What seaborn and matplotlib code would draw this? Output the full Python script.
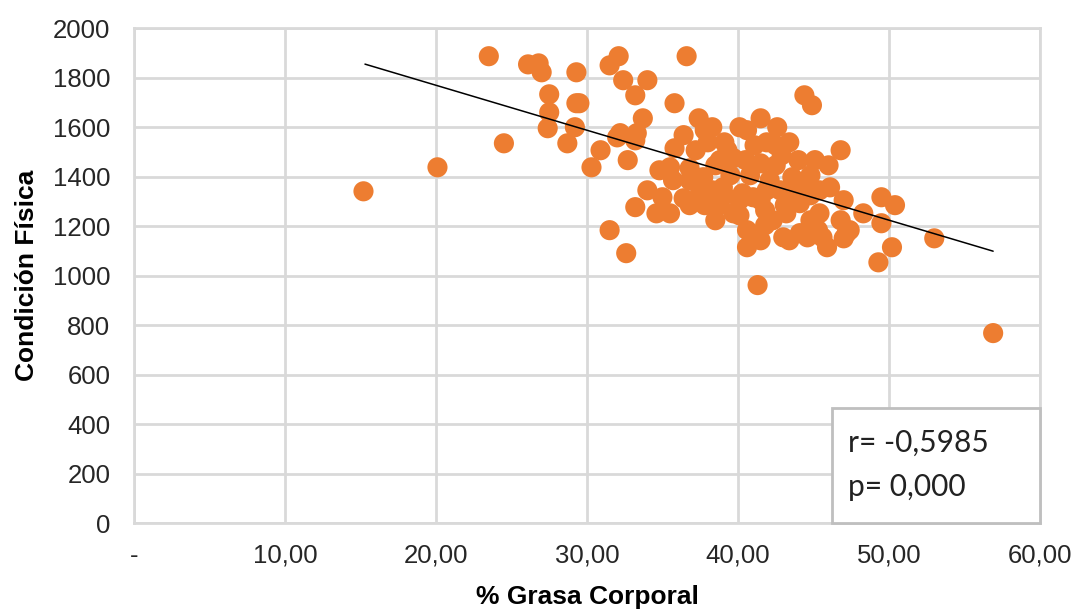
import matplotlib
matplotlib.use("Agg")
import matplotlib.pyplot as plt
import seaborn as sns
import pandas as pd
from matplotlib.patches import Rectangle

# % Grasa Corporal (x) and Condición Física (y)
grasa = [
    15.2, 20.1, 23.5, 24.5, 26.1, 26.8, 27.0, 27.5, 27.5, 27.4,
    29.3, 29.3, 29.5, 29.2, 28.7, 31.5, 32.1, 32.4, 34.0, 33.2,
    33.7, 32.2, 33.3, 30.9, 32.7, 30.3, 33.2, 32.0, 31.5, 32.6,
    34.0, 33.2, 35.0, 34.6, 35.5, 36.4, 35.7, 35.5, 35.8, 36.4,
    35.8, 36.6, 37.4, 38.3, 40.1, 41.5, 42.6, 40.6, 38.0, 39.1,
    41.9, 43.4, 39.7, 40.5, 41.5, 44.0, 36.8, 37.7, 38.8, 39.7,
    40.6, 40.6, 39.0, 40.3, 44.8, 46.8, 46.0, 46.1, 43.6, 42.8,
    41.0, 44.1, 42.3, 43.4, 44.6, 45.6, 45.4, 46.8, 47.0, 44.4,
    44.9, 49.5, 50.4, 48.3, 49.5, 50.2, 49.3, 53.0, 56.9, 41.3,
    43.0, 45.9, 47.2, 44.1, 43.2, 41.9, 47.4, 47.0, 37.5, 38.5,
    39.5, 41.5, 42.5, 43.1, 40.1, 38.5, 41.8, 44.8, 45.4, 37.2,
    41.1, 37.8, 36.8, 44.8, 42.1, 39.1, 34.8, 37.8, 39.3, 40.8,
    42.9, 43.8, 40.1, 38.3, 41.8, 44.4, 36.8, 38.8, 42.5, 45.1,
    41.5, 45.3,
]
condicion = [
    1341, 1438, 1887, 1535, 1854, 1858, 1822, 1733, 1660, 1596,
    1822, 1697, 1697, 1600, 1535, 1850, 1887, 1790, 1790, 1729,
    1636, 1576, 1576, 1507, 1467, 1438, 1547, 1559, 1184, 1091,
    1345, 1277, 1317, 1252, 1252, 1313, 1386, 1438, 1515, 1568,
    1697, 1887, 1636, 1600, 1600, 1636, 1600, 1588, 1539, 1539,
    1539, 1539, 1475, 1467, 1454, 1467, 1434, 1398, 1285, 1252,
    1184, 1115, 1357, 1333, 1406, 1507, 1446, 1357, 1398, 1345,
    1317, 1293, 1224, 1143, 1155, 1155, 1252, 1224, 1305, 1729,
    1689, 1317, 1285, 1252, 1212, 1115, 1054, 1151, 768, 962,
    1155, 1115, 1172, 1172, 1252, 1345, 1184, 1151, 1345, 1446,
    1406, 1305, 1446, 1285, 1244, 1224, 1204, 1224, 1345, 1507,
    1527, 1285, 1386, 1325, 1386, 1325, 1426, 1588, 1507, 1406,
    1487, 1345, 1305, 1345, 1264, 1365, 1285, 1467, 1527, 1467,
    1143, 1184,
]

# Linear trend line endpoints
trend_x = [15.3, 56.9]
trend_y = [1855, 1099]

x_ticks = [0, 10, 20, 30, 40, 50, 60]
x_tick_labels = ["-", "10,00", "20,00", "30,00", "40,00", "50,00", "60,00"]
y_ticks = [0, 200, 400, 600, 800, 1000, 1200, 1400, 1600, 1800, 2000]
stats_lines = ["r= -0,5985", "p= 0,000"]

df = pd.DataFrame({"grasa": grasa, "condicion": condicion})
trend = pd.DataFrame({"x": trend_x, "y": trend_y})

sns.set_theme(style="white")
plt.rcParams["font.family"] = ["Liberation Sans", "DejaVu Sans"]

fig = plt.figure(figsize=(10.76, 6.14), dpi=100)
ax = fig.add_axes([0.1245, 0.148, 0.842, 0.806])

grid_c = "#d9d9d9"
ax.set_axisbelow(True)
ax.grid(True, color=grid_c, linewidth=2)
for s in ax.spines.values():
    s.set_color(grid_c)
    s.set_linewidth(2)

sns.scatterplot(data=df, x="grasa", y="condicion", ax=ax, s=210,
                color="#ED7D31", edgecolor="none", linewidth=0, zorder=3)
sns.lineplot(data=trend, x="x", y="y", ax=ax, color="black",
             linewidth=1.1, zorder=4)

ax.set_xlim(0, 60)
ax.set_ylim(0, 2000)
ax.set_xticks(x_ticks)
ax.set_xticklabels(x_tick_labels)
ax.set_yticks(y_ticks)
ax.tick_params(axis="both", length=0, labelsize=18.5, colors="#262626")
ax.tick_params(axis="x", pad=15)
ax.tick_params(axis="y", pad=17)

ax.set_xlabel("% Grasa Corporal", fontsize=19, fontweight="bold",
              color="black", labelpad=12)
ax.set_ylabel("Condición Física", fontsize=19, fontweight="bold",
              color="black", labelpad=10)

# Stats box in lower right corner
box = Rectangle((0.770, 0.0), 0.230, 0.232, transform=ax.transAxes,
                facecolor="white", edgecolor="#bfbfbf", linewidth=2,
                zorder=5, clip_on=False)
ax.add_patch(box)
ax.text(0.788, 0.163, stats_lines[0], transform=ax.transAxes, fontsize=21.5,
        family=["Lato", "DejaVu Sans"], color="#222222", va="center", zorder=6)
ax.text(0.788, 0.072, stats_lines[1], transform=ax.transAxes, fontsize=21.5,
        family=["Lato", "DejaVu Sans"], color="#222222", va="center", zorder=6)

fig.savefig("out.png", dpi=100)
